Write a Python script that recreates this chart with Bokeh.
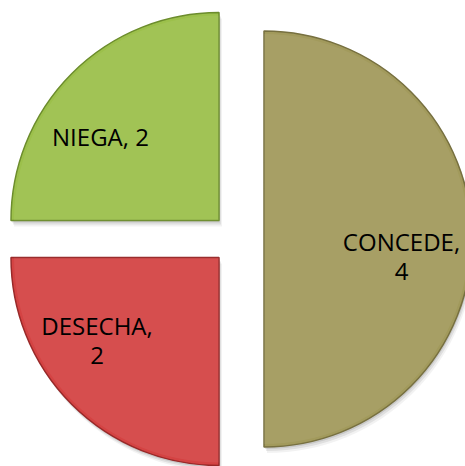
import numpy as np
from bokeh.plotting import figure
from bokeh.models import Range1d, ColumnDataSource
from bokeh.core.properties import value
from bokeh.embed import file_html
from bokeh.resources import INLINE

# ---- data ----
categories = ["CONCEDE", "DESECHA", "NIEGA"]
values = [4, 2, 2]

# ---- style / layout ----
colors = ["#A29A5C", "#D44343", "#9CC04B"]
edge_colors = ["#777040", "#982929", "#6C8C2D"]
W, H = 465, 466
PAGE_H = 466
cx, cy = 241.0, PAGE_H - 238.5      # pie centre (y-up data coordinates)
R = 208
explode = [(22.5, 0.0), (-22.5, -18.5), (-22.5, 18.5)]
label_off = [(137.5, -2.0), (-122.0, -68.0), (-118.5, 84.0)]
wrap = [True, True, False]
LINE_GAP = 30
FONT = value("Open Sans")
FSIZE = "24px"

vals = np.array(values, dtype=float)
frac = vals / vals.sum()
cum = np.concatenate([[0.0], np.cumsum(frac)])
starts = np.pi / 2 - 2 * np.pi * cum[1:]
ends = np.pi / 2 - 2 * np.pi * cum[:-1]

xs = [cx + e[0] for e in explode]
ys = [cy + e[1] for e in explode]

src = ColumnDataSource(dict(x=xs, y=ys, start=starts, end=ends,
                            color=colors, edge=edge_colors))

p = figure(width=W, height=H, x_range=Range1d(0, W), y_range=Range1d(PAGE_H - H, PAGE_H),
           output_backend="svg", toolbar_location=None, min_border=0)
p.axis.visible = False
p.grid.visible = False
p.outline_line_color = None
p.background_fill_color = "white"
p.border_fill_color = "white"

# soft shadows
for (dx, dy, a) in [(1, -2, 0.10), (2, -4, 0.08), (3, -6, 0.05)]:
    sh = ColumnDataSource(dict(x=[x + dx for x in xs], y=[y + dy for y in ys], start=starts, end=ends))
    p.wedge(x="x", y="y", radius=R, start_angle="start", end_angle="end", source=sh,
            fill_color="black", fill_alpha=a, line_color=None)

p.wedge(x="x", y="y", radius=R, start_angle="start", end_angle="end", source=src,
        fill_color="color", line_color="edge", line_width=1.5)

# subtle lighter highlight (gradient impression)
hl = ColumnDataSource(dict(x=xs, y=ys, start=starts, end=ends))
p.wedge(x="x", y="y", radius=R - 3, start_angle="start", end_angle="end", source=hl,
        fill_color="white", fill_alpha=0.06, line_color=None)

# labels
tx, ty, tt = [], [], []
for i, (cat, v) in enumerate(zip(categories, values)):
    lx = xs[i] + label_off[i][0]
    ly = ys[i] + label_off[i][1]
    if wrap[i]:
        tx += [lx, lx]
        ty += [ly, ly - LINE_GAP]
        tt += [f"{cat},", f"{v}"]
    else:
        tx.append(lx)
        ty.append(ly)
        tt.append(f"{cat}, {v}")

p.text(x=tx, y=ty, text=tt, text_font=FONT, text_font_size=FSIZE, text_color="black",
       text_align="center", text_baseline="middle")

open("out.html", "w").write(file_html(p, INLINE))
